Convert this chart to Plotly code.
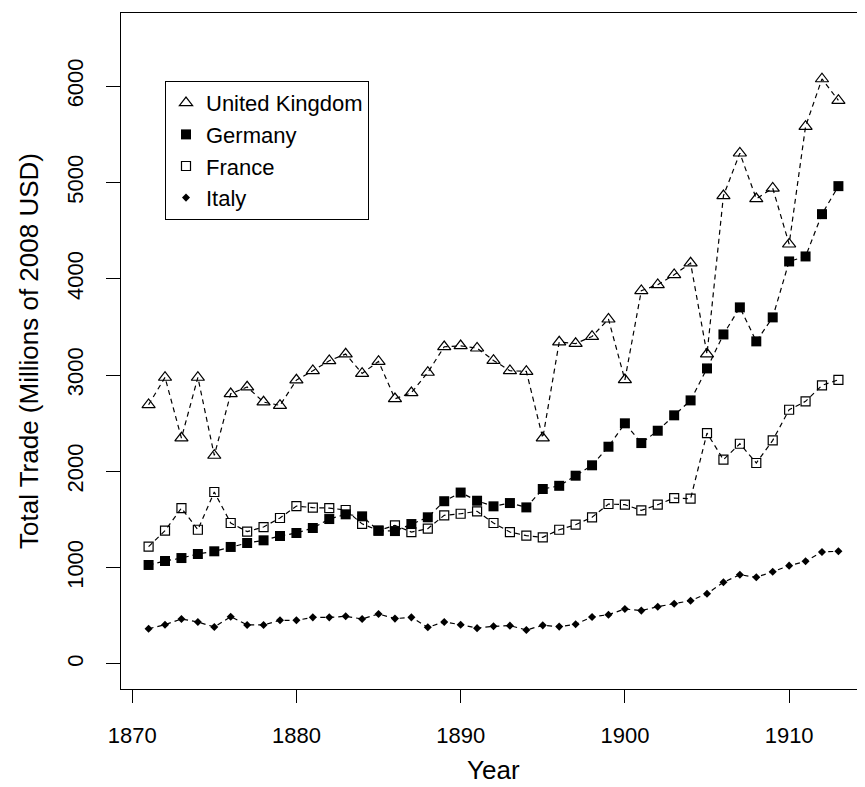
import plotly.graph_objects as go

years = list(range(1871, 1914))

uk = [2692, 2976, 2346, 2976, 2166, 2806, 2876, 2720, 2685, 2948,
      3045, 3149, 3218, 3017, 3142, 2754, 2816, 3028, 3294, 3304,
      3280, 3152, 3045, 3038, 2346, 3343, 3327, 3401, 3581, 2951,
      3876, 3938, 4042, 4163, 3218, 4862, 5305, 4831, 4941, 4360,
      5582, 6076, 5852]

germany = [1028, 1069, 1100, 1142, 1170, 1215, 1256, 1284, 1329, 1360,
           1412, 1505, 1554, 1533, 1384, 1380, 1453, 1523, 1690, 1780,
           1695, 1637, 1671, 1626, 1817, 1850, 1955, 2063, 2256, 2499,
           2294, 2422, 2582, 2737, 3069, 3422, 3703, 3350, 3599, 4180,
           4232, 4671, 4962]

france = [1218, 1384, 1619, 1394, 1786, 1464, 1374, 1422, 1516, 1640,
          1623, 1619, 1599, 1455, 1385, 1440, 1370, 1405, 1544, 1560,
          1585, 1464, 1370, 1332, 1315, 1394, 1446, 1523, 1661, 1654,
          1595, 1654, 1723, 1716, 2398, 2121, 2287, 2087, 2322, 2640,
          2727, 2893, 2951]

italy = [366, 408, 467, 436, 384, 491, 405, 405, 453, 453,
         484, 484, 495, 467, 519, 471, 484, 381, 436, 408,
         372, 391, 398, 353, 401, 388, 412, 488, 512, 571,
         554, 595, 626, 657, 730, 848, 927, 900, 958, 1021,
         1066, 1163, 1170]

series_names = ["United Kingdom", "Germany", "France", "Italy"]
x_ticks = [1870, 1880, 1890, 1900, 1910]
y_ticks = [0, 1000, 2000, 3000, 4000, 5000, 6000]

FONT = "Liberation Sans, Arial, Helvetica, sans-serif"

styles = [
    dict(symbol="triangle-up-open", size=11.5, color="black", line=dict(width=1.2, color="black")),
    dict(symbol="square", size=10, color="black", line=dict(width=0)),
    dict(symbol="square-open", size=9, color="black", line=dict(width=1.2, color="black")),
    dict(symbol="diamond", size=6.2, color="black", line=dict(width=0)),
]

fig = go.Figure()
for name, vals, st in zip(series_names, [uk, germany, france, italy], styles):
    fig.add_trace(go.Scatter(
        x=years, y=vals, mode="lines+markers", name=name,
        line=dict(color="black", width=1.2, dash="5px,4px"),
        marker=st, showlegend=False))
# legend-only entries (points only, like R's legend)
for name, st in zip(series_names, styles):
    fig.add_trace(go.Scatter(x=[None], y=[None], mode="markers", name=name,
                             marker=st, showlegend=True))

W, H = 865, 787
L, R, T, B = 113, 7, 5, 106
pw, ph = W - L - R, H - T - B

fig.update_layout(
    width=W, height=H,
    margin=dict(l=L, r=R, t=T, b=B),
    paper_bgcolor="white", plot_bgcolor="white",
    font=dict(family=FONT, size=22, color="black"),
    showlegend=True,
    legend=dict(
        x=(157 - L) / pw, y=1 - (73 - T) / ph, xanchor="left", yanchor="top",
        bordercolor="black", borderwidth=1, bgcolor="white",
        font=dict(family=FONT, size=22, color="black"),
        tracegroupgap=0,
    ),
    xaxis=dict(
        range=[1869.32, 1914.68], tickvals=x_ticks, ticktext=[str(v) for v in x_ticks],
        ticks="outside", ticklen=13, tickwidth=1, tickcolor="black",
        showline=True, linecolor="black", linewidth=1, mirror=True,
        showgrid=False, zeroline=False,
        tickfont=dict(family=FONT, size=22, color="black"),
        ticklabelstandoff=14,
    ),
    yaxis=dict(
        range=[-260, 6760], tickvals=y_ticks, ticktext=[str(v) for v in y_ticks],
        ticks="outside", ticklen=14, tickwidth=1, tickcolor="black",
        showline=True, linecolor="black", linewidth=1, mirror=True,
        showgrid=False, zeroline=False, tickangle=-90,
        tickfont=dict(family=FONT, size=22, color="black"),
        ticklabelstandoff=14,
    ),
    annotations=[
        dict(text="Year", xref="paper", yref="paper", x=0.5, y=-(762 - (H - B)) / ph,
             xanchor="center", yanchor="middle", showarrow=False,
             font=dict(family=FONT, size=26, color="black")),
        dict(text="Total Trade (Millions of 2008 USD)", xref="paper", yref="paper",
             x=-(L - 21) / pw, y=0.5, textangle=-90,
             xanchor="center", yanchor="middle", showarrow=False,
             font=dict(family=FONT, size=26, color="black")),
    ],
)

fig.write_html("out.html")
